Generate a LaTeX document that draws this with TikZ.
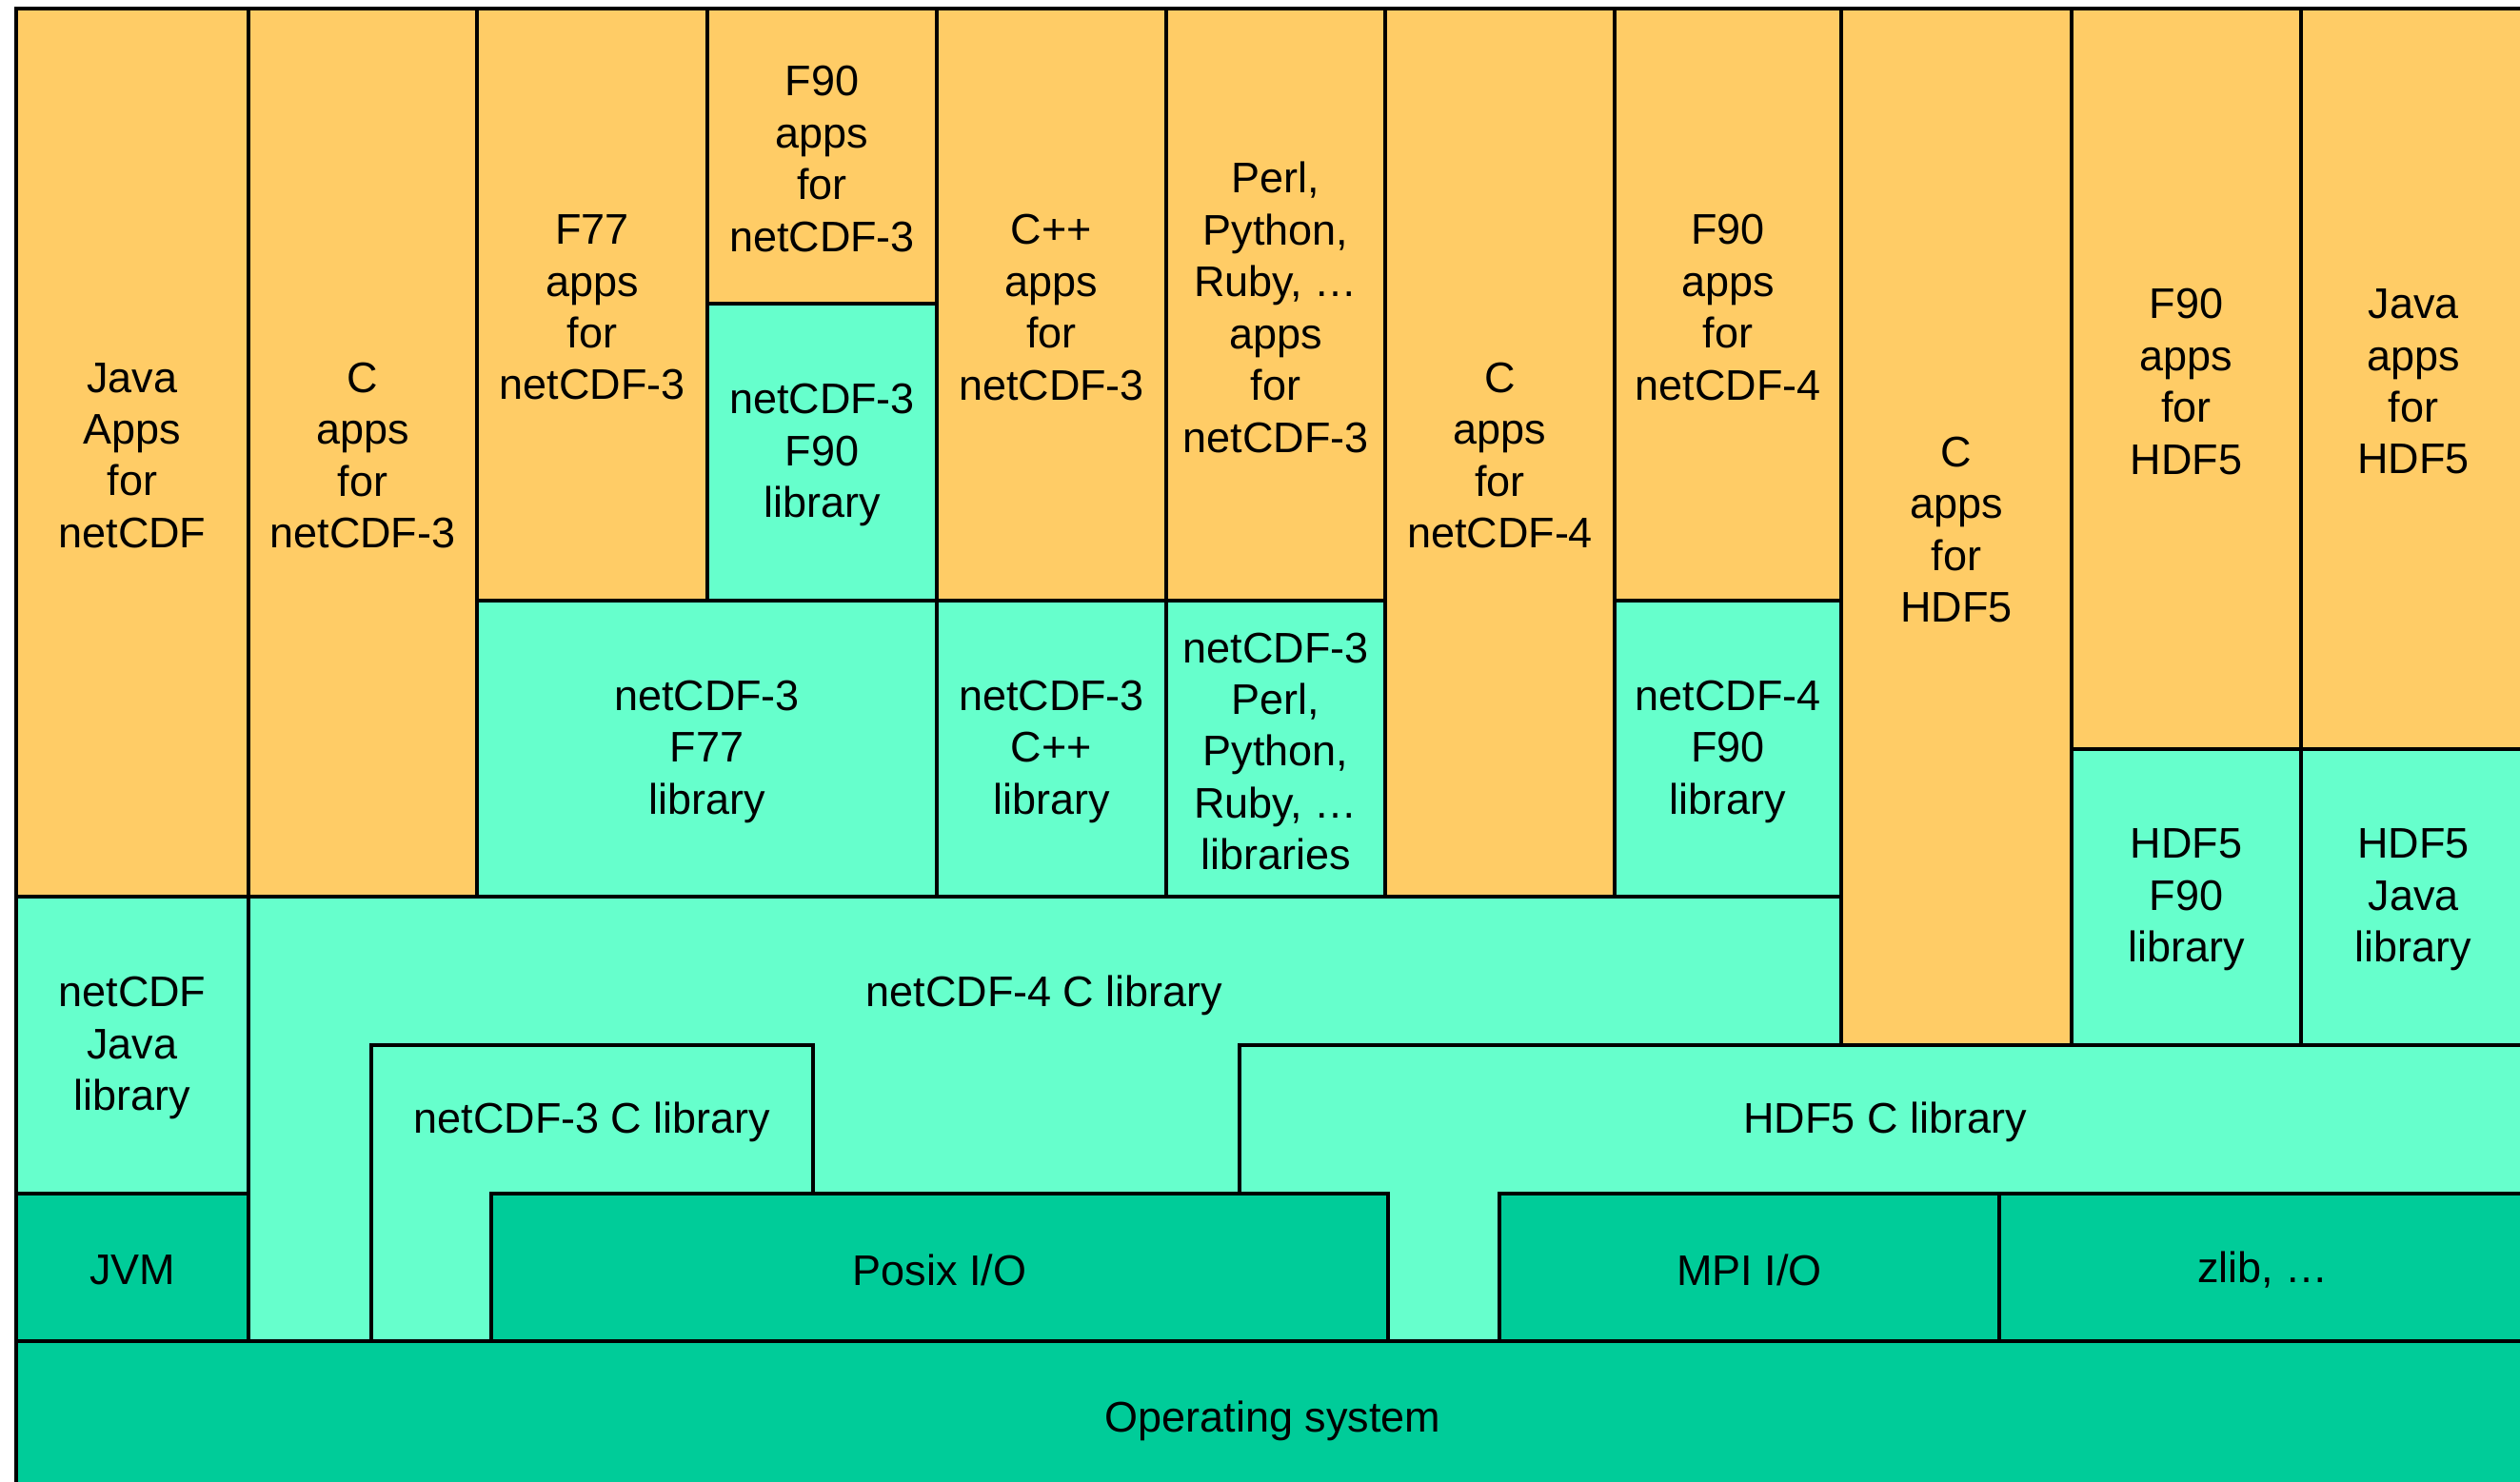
\documentclass[tikz,border=0pt]{standalone}
\usepackage{fontspec}
\setmainfont{Liberation Sans}
\definecolor{appcol}{HTML}{FFCC66}
\definecolor{libcol}{HTML}{66FFCC}
\definecolor{syscol}{HTML}{00CC99}

\begin{document}
\begin{tikzpicture}[
  app/.style={draw=black,line width=1.1pt,fill=appcol},
  lib/.style={draw=black,line width=1.1pt,fill=libcol},
  sys/.style={draw=black,line width=1.1pt,fill=syscol},
  label/.style={font=\fontsize{12.8}{15.5}\selectfont,align=center,inner sep=0pt,yshift=-0.03cm},
]
\clip (0,0) rectangle (26.47,-15.57);
% system layer
\draw[sys] (0.17,-14.09) rectangle (26.7,-15.7);
\draw[sys] (0.17,-12.54) rectangle (2.61,-14.09);
\draw[sys] (5.16,-12.54) rectangle (14.58,-14.09);
\draw[sys] (15.75,-12.54) rectangle (21.00,-14.09);
\draw[sys] (21.00,-12.54) rectangle (26.7,-14.09);
% C libraries
\draw[lib] (2.61,-9.42) -- (19.34,-9.42) -- (19.34,-10.98) -- (13.02,-10.98)
  -- (13.02,-12.54) -- (8.54,-12.54) -- (8.54,-10.98) -- (3.90,-10.98)
  -- (3.90,-14.09) -- (2.61,-14.09) -- cycle;
\draw[lib] (3.90,-10.98) -- (8.54,-10.98) -- (8.54,-12.54) -- (5.16,-12.54)
  -- (5.16,-14.09) -- (3.90,-14.09) -- cycle;
\draw[lib] (13.02,-10.98) -- (26.7,-10.98) -- (26.7,-12.54) -- (15.75,-12.54)
  -- (15.75,-14.09) -- (14.58,-14.09) -- (14.58,-12.54) -- (13.02,-12.54) -- cycle;
\draw[lib] (0.17,-9.42) rectangle (2.61,-12.54);
% language libraries
\draw[lib] (7.43,-3.19) rectangle (9.84,-6.31);
\draw[lib] (5.01,-6.31) rectangle (9.84,-9.42);
\draw[lib] (9.84,-6.31) rectangle (12.25,-9.42);
\draw[lib] (12.25,-6.31) rectangle (14.55,-9.42);
\draw[lib] (16.96,-6.31) rectangle (19.34,-9.42);
\draw[lib] (21.76,-7.87) rectangle (24.17,-10.98);
\draw[lib] (24.17,-7.87) rectangle (26.7,-10.98);
% applications
\draw[app] (0.17,-0.09) rectangle (2.61,-9.42);
\draw[app] (2.61,-0.09) rectangle (5.01,-9.42);
\draw[app] (5.01,-0.09) rectangle (7.43,-6.31);
\draw[app] (7.43,-0.09) rectangle (9.84,-3.19);
\draw[app] (9.84,-0.09) rectangle (12.25,-6.31);
\draw[app] (12.25,-0.09) rectangle (14.55,-6.31);
\draw[app] (14.55,-0.09) rectangle (16.96,-9.42);
\draw[app] (16.96,-0.09) rectangle (19.34,-6.31);
\draw[app] (19.34,-0.09) rectangle (21.76,-10.98);
\draw[app] (21.76,-0.09) rectangle (24.17,-7.87);
\draw[app] (24.17,-0.09) rectangle (26.7,-7.87);

\node[label] (javaapps) at (1.39,-4.755) {Java\\Apps\\for\\netCDF};
\node[label] (capps3) at (3.81,-4.755) {C\\apps\\for\\netCDF-3};
\node[label] (f77apps) at (6.22,-3.2) {F77\\apps\\for\\netCDF-3};
\node[label] (f90apps3) at (8.635,-1.64) {F90\\apps\\for\\netCDF-3};
\node[label] (f90lib3) at (8.635,-4.75) {netCDF-3\\F90\\library};
\node[label] (cppapps) at (11.045,-3.2) {C++\\apps\\for\\netCDF-3};
\node[label] (perlapps) at (13.4,-3.2) {Perl,\\Python,\\Ruby, …\\apps\\for\\netCDF-3};
\node[label] (capps4) at (15.755,-4.755) {C\\apps\\for\\netCDF-4};
\node[label] (f90apps4) at (18.15,-3.2) {F90\\apps\\for\\netCDF-4};
\node[label] (capps5) at (20.55,-5.535) {C\\apps\\for\\HDF5};
\node[label] (f90apps5) at (22.965,-3.98) {F90\\apps\\for\\HDF5};
\node[label] (javaapps5) at (25.35,-3.98) {Java\\apps\\for\\HDF5};
\node[label] (f77lib3) at (7.425,-7.865) {netCDF-3\\F77\\library};
\node[label] (cpplib3) at (11.045,-7.865) {netCDF-3\\C++\\library};
\node[label] (perllib3) at (13.4,-7.865) {netCDF-3\\Perl,\\Python,\\Ruby, …\\libraries};
\node[label] (f90lib4) at (18.15,-7.865) {netCDF-4\\F90\\library};
\node[label] (f90lib5) at (22.965,-9.425) {HDF5\\F90\\library};
\node[label] (javalib5) at (25.35,-9.425) {HDF5\\Java\\library};
\node[label] (javalib) at (1.39,-10.98) {netCDF\\Java\\library};
\node[label] (nc4lib) at (10.97,-10.43) {netCDF-4 C library};
\node[label] (nc3lib) at (6.22,-11.76) {netCDF-3 C library};
\node[label] (h5lib) at (19.8,-11.76) {HDF5 C library};
\node[label] (jvm) at (1.39,-13.315) {JVM};
\node[label] (posix) at (9.87,-13.315) {Posix I/O};
\node[label] (mpi) at (18.375,-13.315) {MPI I/O};
\node[label] (zlib) at (23.77,-13.315) {zlib, …};
\node[label] (os) at (13.37,-14.9) {Operating system};
\end{tikzpicture}
\end{document}
